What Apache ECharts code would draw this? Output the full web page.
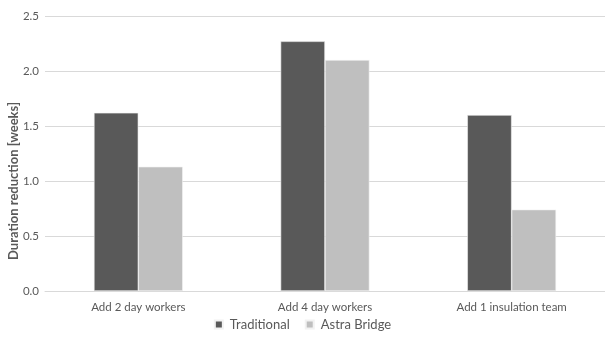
<!DOCTYPE html>
<html><head><meta charset="utf-8">
<script src="https://cdn.jsdelivr.net/npm/echarts@6/dist/echarts.min.js"></script>
<style>html,body{margin:0;padding:0;background:#fff}#c{width:605px;height:339px}</style>
</head><body><div id="c"></div>
<script>
const categories = ['Add 2 day workers', 'Add 4 day workers', 'Add 1 insulation team'];
const traditional = [1.62, 2.27, 1.60];
const astraBridge = [1.13, 2.10, 0.74];
const seriesNames = ['Traditional', 'Astra Bridge'];
const yTitle = 'Duration reduction [weeks]';

const font = 'Lato, "Open Sans", sans-serif';
const chart = echarts.init(document.getElementById('c'), null, {renderer: 'canvas'});
chart.setOption({
  animation: false,
  textStyle: {fontFamily: font},
  grid: {left: 45, right: -9, top: 16, bottom: 48, containLabel: false},
  legend: {
    top: 313, left: 'center',
    icon: 'rect', itemWidth: 8, itemHeight: 8, itemGap: 15,
    textStyle: {color: '#595959', fontSize: 13, fontFamily: font, padding: [0, 0, 0, 2]},
    data: seriesNames
  },
  graphic: [{
    type: 'text', x: 14, y: 181, rotation: Math.PI / 2,
    style: {text: yTitle, fill: '#595959', font: 'bold 13px ' + font,
            textAlign: 'center', textVerticalAlign: 'middle'}
  }],
  xAxis: {
    type: 'category', data: categories,
    axisLine: {show: true, lineStyle: {color: '#d9d9d9', width: 1}},
    axisTick: {show: false},
    axisLabel: {color: '#595959', fontSize: 11.5, margin: 10, fontFamily: font}
  },
  yAxis: {
    type: 'value', min: 0, max: 2.5, interval: 0.5,
    axisLine: {show: false}, axisTick: {show: false},
    axisLabel: {color: '#595959', fontSize: 11.5, margin: 6, fontFamily: font,
      formatter: v => v.toFixed(1)},
    splitLine: {lineStyle: {color: '#d9d9d9', width: 1}}
  },
  series: [
    {name: seriesNames[0], type: 'bar', data: traditional, barWidth: '23.8%', barGap: '0%',
     itemStyle: {color: '#595959', borderColor: '#f2f2f2', borderWidth: 0.6}},
    {name: seriesNames[1], type: 'bar', data: astraBridge, barWidth: '23.8%', barGap: '0%',
     itemStyle: {color: '#bfbfbf', borderColor: '#f2f2f2', borderWidth: 0.6}}
  ]
});
</script></body></html>
